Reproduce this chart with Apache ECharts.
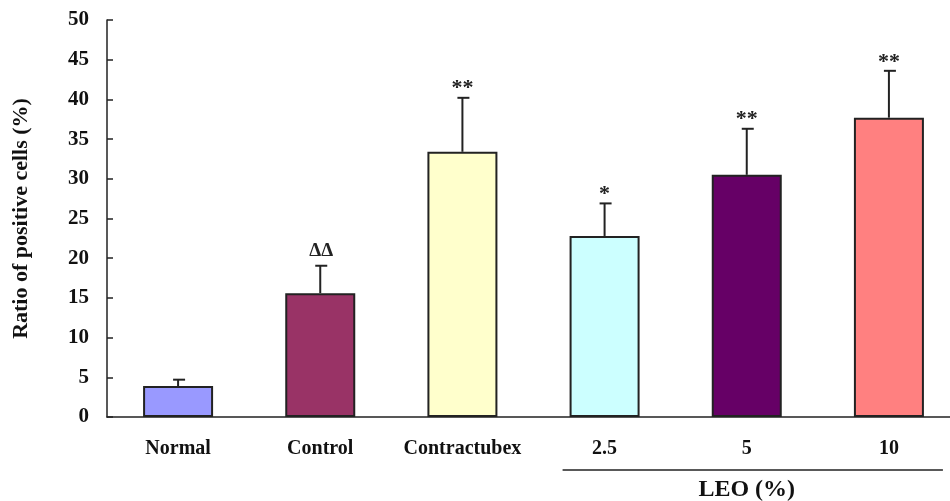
<!DOCTYPE html>
<html>
<head>
<meta charset="utf-8">
<script src="https://cdn.jsdelivr.net/npm/echarts@6/dist/echarts.min.js"></script>
<style>html,body{margin:0;padding:0;background:#fff;overflow:hidden;width:950px;height:501px;}#main{width:970px;height:501px;}</style>
</head>
<body>
<div id="main"></div>
<script>
var categories = ['Normal', 'Control', 'Contractubex', '2.5', '5', '10'];
var means = [3.9, 15.6, 33.4, 22.8, 30.5, 37.7];
var errors = [0.8, 3.45, 6.8, 4.1, 5.8, 5.9];
var marks = ['', '\u0394\u0394', '**', '*', '**', '**'];
var colors = ['#9999FF', '#993366', '#FFFFCC', '#CCFFFF', '#660066', '#FF8080'];
var yTicks = [0, 5, 10, 15, 20, 25, 30, 35, 40, 45, 50];
var groupLabel = 'LEO (%)';
var groupFrom = '2.5', groupTo = '10';

var FONT = '"Liberation Serif", "Times New Roman", serif';
var chart = echarts.init(document.getElementById('main'));
var option = {
  animation: false,
  backgroundColor: '#fff',
  grid: { left: 107, top: 20, width: 853, height: 397, containLabel: false },
  xAxis: {
    type: 'category',
    data: categories,
    axisLine: { lineStyle: { color: '#222', width: 1.5 } },
    axisTick: { inside: true, length: 6, alignWithLabel: false, interval: 0, lineStyle: { color: '#222', width: 1.5 } },
    axisLabel: { interval: 0, hideOverlap: false, margin: 22, color: '#111', fontFamily: FONT, fontWeight: 'bold', fontSize: 20 }
  },
  yAxis: {
    type: 'value',
    min: yTicks[0], max: yTicks[yTicks.length - 1], interval: yTicks[1] - yTicks[0],
    name: 'Ratio of positive cells (%)',
    nameLocation: 'middle', nameGap: 75, nameRotate: 90,
    nameTextStyle: { color: '#111', fontFamily: FONT, fontWeight: 'bold', fontSize: 22 },
    splitLine: { show: false },
    axisLine: { show: true, lineStyle: { color: '#222', width: 1.5 } },
    axisTick: { show: true, inside: true, length: 6, lineStyle: { color: '#222', width: 1.5 } },
    axisLabel: { margin: 18, color: '#111', fontFamily: FONT, fontWeight: 'bold', fontSize: 21 }
  },
  series: [
    {
      type: 'bar',
      barWidth: 70,
      data: means.map(function (v, i) {
        return { value: v, itemStyle: { color: colors[i], borderColor: '#222', borderWidth: 2 } };
      }),
      z: 2
    },
    {
      type: 'custom',
      z: 3,
      data: means.map(function (v, i) { return [i, v, v + errors[i]]; }),
      renderItem: function (params, api) {
        var base = api.coord([api.value(0), api.value(1)]);
        var top = api.coord([api.value(0), api.value(2)]);
        var mark = marks[params.dataIndex];
        var style = { stroke: '#222', lineWidth: 2 };
        var children = [
          { type: 'line', shape: { x1: base[0], y1: base[1], x2: top[0], y2: top[1] }, style: style },
          { type: 'line', shape: { x1: top[0] - 5, y1: top[1], x2: top[0] + 7, y2: top[1] }, style: style }
        ];
        if (mark) {
          var isStar = mark.indexOf('*') >= 0;
          children.push({
            type: 'text',
            style: {
              text: mark, x: top[0] + (isStar ? 0 : 1), y: top[1] - (isStar ? 9 : 15),
              align: 'center', verticalAlign: 'middle',
              fill: '#222', font: 'bold ' + (isStar ? 22 : 19) + 'px ' + FONT
            }
          });
        }
        return { type: 'group', children: children };
      }
    }
  ]
};
chart.setOption(option);

var pFrom = chart.convertToPixel({ xAxisIndex: 0 }, groupFrom);
var pTo = chart.convertToPixel({ xAxisIndex: 0 }, groupTo);
var yLine = chart.convertToPixel({ yAxisIndex: 0 }, 0) + 53;
chart.setOption({
  graphic: [
    { type: 'line', shape: { x1: pFrom - 42, y1: yLine, x2: pTo + 54, y2: yLine }, style: { stroke: '#222', lineWidth: 1.5 } },
    { type: 'text', style: { text: groupLabel, x: (pFrom + pTo) / 2, y: yLine + 20, align: 'center', verticalAlign: 'middle', fill: '#111', font: 'bold 24px ' + FONT } }
  ]
});
</script>
</body>
</html>
